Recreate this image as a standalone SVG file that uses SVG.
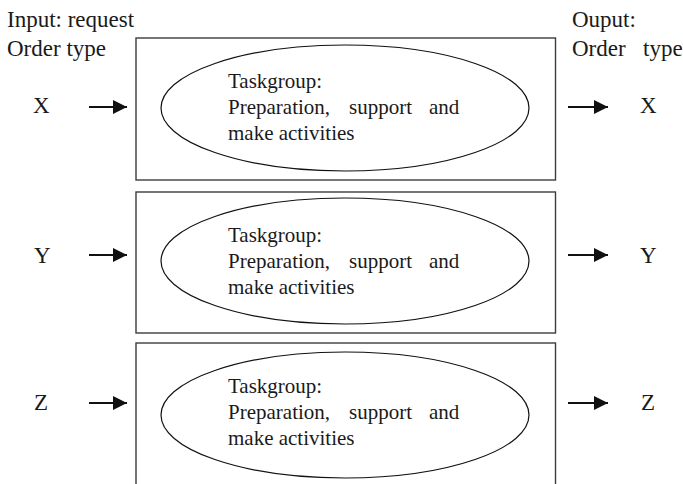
<svg xmlns="http://www.w3.org/2000/svg" width="683" height="484" viewBox="0 0 683 484">
  <style>
    text { font-family: "Liberation Serif", "Times New Roman", serif; fill: #1a1a1a; }
    .lbl { font-size: 23px; }
    .body { font-size: 21px; }
    .box { fill: #fff; stroke: #3c3c3c; stroke-width: 1.4; }
    .task { fill: #fff; stroke: #111; stroke-width: 1.2; }
    .arrow { stroke: #111; stroke-width: 1.8; fill: none; }
  </style>
  <defs>
    <marker id="head" markerUnits="userSpaceOnUse" markerWidth="15" markerHeight="14" refX="14" refY="7" orient="auto">
      <path d="M0,0 L14,7 L0,14 Z" fill="#111"/>
    </marker>
  </defs>
  <rect width="683" height="484" fill="#fff"/>

  <!-- column headings -->
  <g id="input-heading">
    <text class="lbl" x="7" y="27">Input: request</text>
    <text class="lbl" x="7" y="56">Order type</text>
  </g>
  <g id="output-heading">
    <text class="lbl" x="572" y="27">Ouput:</text>
    <text class="lbl" x="572" y="56">Order<tspan x="643">type</tspan></text>
  </g>

  <!-- order type X -->
  <g id="taskgroup-x">
    <rect class="box" x="136" y="38" width="419.5" height="142"/>
    <ellipse class="task" cx="345" cy="108" rx="184" ry="63"/>
    <text class="body" x="228" y="88">Taskgroup:</text>
    <text class="body" y="114"><tspan x="228">Preparation,</tspan><tspan x="349">support</tspan><tspan x="429">and</tspan></text>
    <text class="body" x="228" y="140">make activities</text>
  </g>
  <g id="in-x"><text class="lbl" x="33" y="113">X</text></g>
  <g id="out-x"><text class="lbl" x="640" y="113">X</text></g>

  <!-- order type Y -->
  <g id="taskgroup-y">
    <rect class="box" x="136" y="192" width="419.5" height="141"/>
    <ellipse class="task" cx="345" cy="261" rx="184" ry="63"/>
    <text class="body" x="228" y="242">Taskgroup:</text>
    <text class="body" y="268"><tspan x="228">Preparation,</tspan><tspan x="349">support</tspan><tspan x="429">and</tspan></text>
    <text class="body" x="228" y="294">make activities</text>
  </g>
  <g id="in-y"><text class="lbl" x="34" y="263">Y</text></g>
  <g id="out-y"><text class="lbl" x="640" y="263">Y</text></g>

  <!-- order type Z -->
  <g id="taskgroup-z">
    <rect class="box" x="136" y="343" width="419.5" height="150"/>
    <ellipse class="task" cx="345" cy="415" rx="184" ry="63"/>
    <text class="body" x="228" y="393">Taskgroup:</text>
    <text class="body" y="419"><tspan x="228">Preparation,</tspan><tspan x="349">support</tspan><tspan x="429">and</tspan></text>
    <text class="body" x="228" y="445">make activities</text>
  </g>
  <g id="in-z"><text class="lbl" x="34" y="410">Z</text></g>
  <g id="out-z"><text class="lbl" x="641" y="410">Z</text></g>

  <!-- flow arrows -->
  <g id="connectors">
    <line class="arrow" x1="89" y1="107" x2="127" y2="107" marker-end="url(#head)"/>
    <line class="arrow" x1="568" y1="107" x2="608" y2="107" marker-end="url(#head)"/>
    <line class="arrow" x1="89" y1="255" x2="127" y2="255" marker-end="url(#head)"/>
    <line class="arrow" x1="568" y1="255" x2="608" y2="255" marker-end="url(#head)"/>
    <line class="arrow" x1="89" y1="403" x2="127" y2="403" marker-end="url(#head)"/>
    <line class="arrow" x1="568" y1="403" x2="608" y2="403" marker-end="url(#head)"/>
  </g>
</svg>
